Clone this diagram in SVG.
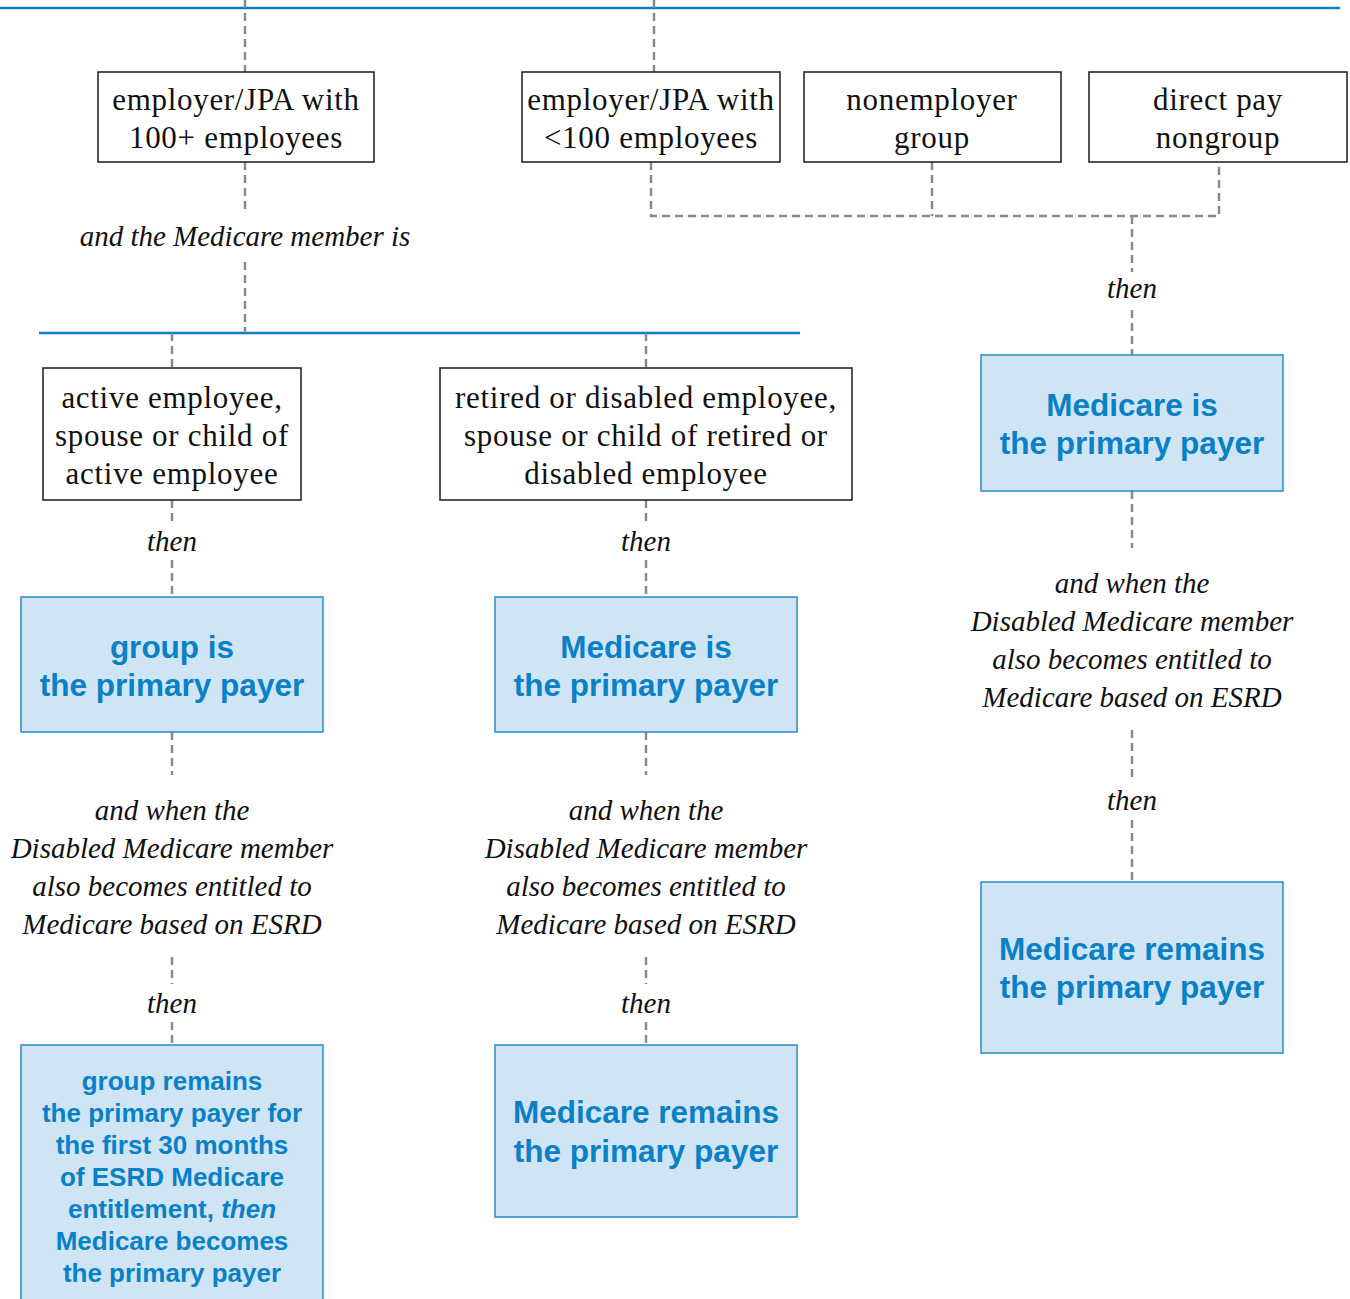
<svg xmlns="http://www.w3.org/2000/svg" width="1350" height="1299" viewBox="0 0 1350 1299">
<style>
.bg{fill:#ffffff}
.rule{stroke:#0a7fc4;stroke-width:2.5;fill:none}
.dash{stroke:#8a8a8a;stroke-width:2.5;stroke-dasharray:8 5;fill:none}
.wbox{fill:#ffffff;stroke:#1a1a1a;stroke-width:1.5}
.bbox{fill:#cfe5f3;stroke:#2a8bcc;stroke-width:1.5}
.st{font-family:"Liberation Serif",serif;font-size:31px;letter-spacing:0.7px;fill:#111;text-anchor:middle}
.it{font-family:"Liberation Serif",serif;font-style:italic;font-size:29px;fill:#111;text-anchor:middle}
.bt{font-family:"Liberation Sans",Arial,sans-serif;font-weight:bold;font-size:31.5px;fill:#0a80c6;text-anchor:middle}
.bs{font-family:"Liberation Sans",Arial,sans-serif;font-weight:bold;font-size:26px;fill:#0a80c6;text-anchor:middle}
</style>
<rect class="bg" x="0" y="0" width="1350" height="1299"/>
<g id="connectors">
<line class="rule" x1="0" y1="8" x2="1340" y2="8"/>
<line class="rule" x1="39" y1="333" x2="800" y2="333"/>
<line class="dash" x1="245" y1="0" x2="245" y2="72"/>
<line class="dash" x1="654" y1="0" x2="654" y2="72"/>
<line class="dash" x1="245" y1="162" x2="245" y2="212"/>
<line class="dash" x1="245" y1="262" x2="245" y2="333"/>
<path class="dash" d="M651 162 V216 H1219 V162"/>
<line class="dash" x1="932" y1="162" x2="932" y2="216"/>
<line class="dash" x1="1132" y1="216" x2="1132" y2="272"/>
<line class="dash" x1="1132" y1="310" x2="1132" y2="355"/>
<line class="dash" x1="172" y1="333" x2="172" y2="368"/>
<line class="dash" x1="646" y1="333" x2="646" y2="368"/>
<line class="dash" x1="172" y1="500" x2="172" y2="522"/>
<line class="dash" x1="172" y1="560" x2="172" y2="597"/>
<line class="dash" x1="646" y1="500" x2="646" y2="522"/>
<line class="dash" x1="646" y1="560" x2="646" y2="597"/>
<line class="dash" x1="172" y1="732" x2="172" y2="775"/>
<line class="dash" x1="646" y1="732" x2="646" y2="775"/>
<line class="dash" x1="172" y1="957" x2="172" y2="984"/>
<line class="dash" x1="172" y1="1022" x2="172" y2="1045"/>
<line class="dash" x1="646" y1="957" x2="646" y2="984"/>
<line class="dash" x1="646" y1="1022" x2="646" y2="1045"/>
<line class="dash" x1="1132" y1="491" x2="1132" y2="548"/>
<line class="dash" x1="1132" y1="730" x2="1132" y2="778"/>
<line class="dash" x1="1132" y1="820" x2="1132" y2="882"/>
</g>
<g id="labels">
<text class="it" x="245" y="246">and the Medicare member is</text>
<text class="it" x="1132" y="298">then</text>
<text class="it" x="172" y="551">then</text>
<text class="it" x="646" y="551">then</text>
<text class="it" x="172" y="820">and when the</text>
<text class="it" x="172" y="858">Disabled Medicare member</text>
<text class="it" x="172" y="896">also becomes entitled to</text>
<text class="it" x="172" y="934">Medicare based on ESRD</text>
<text class="it" x="646" y="820">and when the</text>
<text class="it" x="646" y="858">Disabled Medicare member</text>
<text class="it" x="646" y="896">also becomes entitled to</text>
<text class="it" x="646" y="934">Medicare based on ESRD</text>
<text class="it" x="172" y="1013">then</text>
<text class="it" x="646" y="1013">then</text>
<text class="it" x="1132" y="593">and when the</text>
<text class="it" x="1132" y="631">Disabled Medicare member</text>
<text class="it" x="1132" y="669">also becomes entitled to</text>
<text class="it" x="1132" y="707">Medicare based on ESRD</text>
<text class="it" x="1132" y="810">then</text>
</g>
<g id="n-emp100plus">
<rect class="wbox" x="98" y="72" width="276" height="90"/>
<text class="st" x="236" y="110">employer/JPA with</text>
<text class="st" x="236" y="148">100+ employees</text>
</g>
<g id="n-emp100less">
<rect class="wbox" x="522" y="72" width="258" height="90"/>
<text class="st" x="651" y="110">employer/JPA with</text>
<text class="st" x="651" y="148">&lt;100 employees</text>
</g>
<g id="n-nonemployer">
<rect class="wbox" x="804" y="72" width="257" height="90"/>
<text class="st" x="932" y="110">nonemployer</text>
<text class="st" x="932" y="148">group</text>
</g>
<g id="n-directpay">
<rect class="wbox" x="1089" y="72" width="258" height="90"/>
<text class="st" x="1218" y="110">direct pay</text>
<text class="st" x="1218" y="148">nongroup</text>
</g>
<g id="n-active">
<rect class="wbox" x="43" y="368" width="258" height="132"/>
<text class="st" x="172" y="408">active employee,</text>
<text class="st" x="172" y="446">spouse or child of</text>
<text class="st" x="172" y="484">active employee</text>
</g>
<g id="n-retired">
<rect class="wbox" x="440" y="368" width="412" height="132"/>
<text class="st" x="646" y="408">retired or disabled employee,</text>
<text class="st" x="646" y="446">spouse or child of retired or</text>
<text class="st" x="646" y="484">disabled employee</text>
</g>
<g id="n-group-primary">
<rect class="bbox" x="21" y="597" width="302" height="135"/>
<text class="bt" x="172" y="658">group is</text>
<text class="bt" x="172" y="696">the primary payer</text>
</g>
<g id="n-medicare-primary-mid">
<rect class="bbox" x="495" y="597" width="302" height="135"/>
<text class="bt" x="646" y="658">Medicare is</text>
<text class="bt" x="646" y="696">the primary payer</text>
</g>
<g id="n-medicare-primary-right">
<rect class="bbox" x="981" y="355" width="302" height="136"/>
<text class="bt" x="1132" y="416">Medicare is</text>
<text class="bt" x="1132" y="454">the primary payer</text>
</g>
<g id="n-group-remains">
<rect class="bbox" x="21" y="1045" width="302" height="270"/>
<text class="bs" x="172" y="1090">group remains</text>
<text class="bs" x="172" y="1122">the primary payer for</text>
<text class="bs" x="172" y="1154">the first 30 months</text>
<text class="bs" x="172" y="1186">of ESRD Medicare</text>
<text class="bs" x="172" y="1218">entitlement, <tspan font-style="italic">then</tspan></text>
<text class="bs" x="172" y="1250">Medicare becomes</text>
<text class="bs" x="172" y="1282">the primary payer</text>
</g>
<g id="n-medicare-remains-mid">
<rect class="bbox" x="495" y="1045" width="302" height="172"/>
<text class="bt" x="646" y="1123">Medicare remains</text>
<text class="bt" x="646" y="1162">the primary payer</text>
</g>
<g id="n-medicare-remains-right">
<rect class="bbox" x="981" y="882" width="302" height="171"/>
<text class="bt" x="1132" y="960">Medicare remains</text>
<text class="bt" x="1132" y="998">the primary payer</text>
</g>
</svg>
